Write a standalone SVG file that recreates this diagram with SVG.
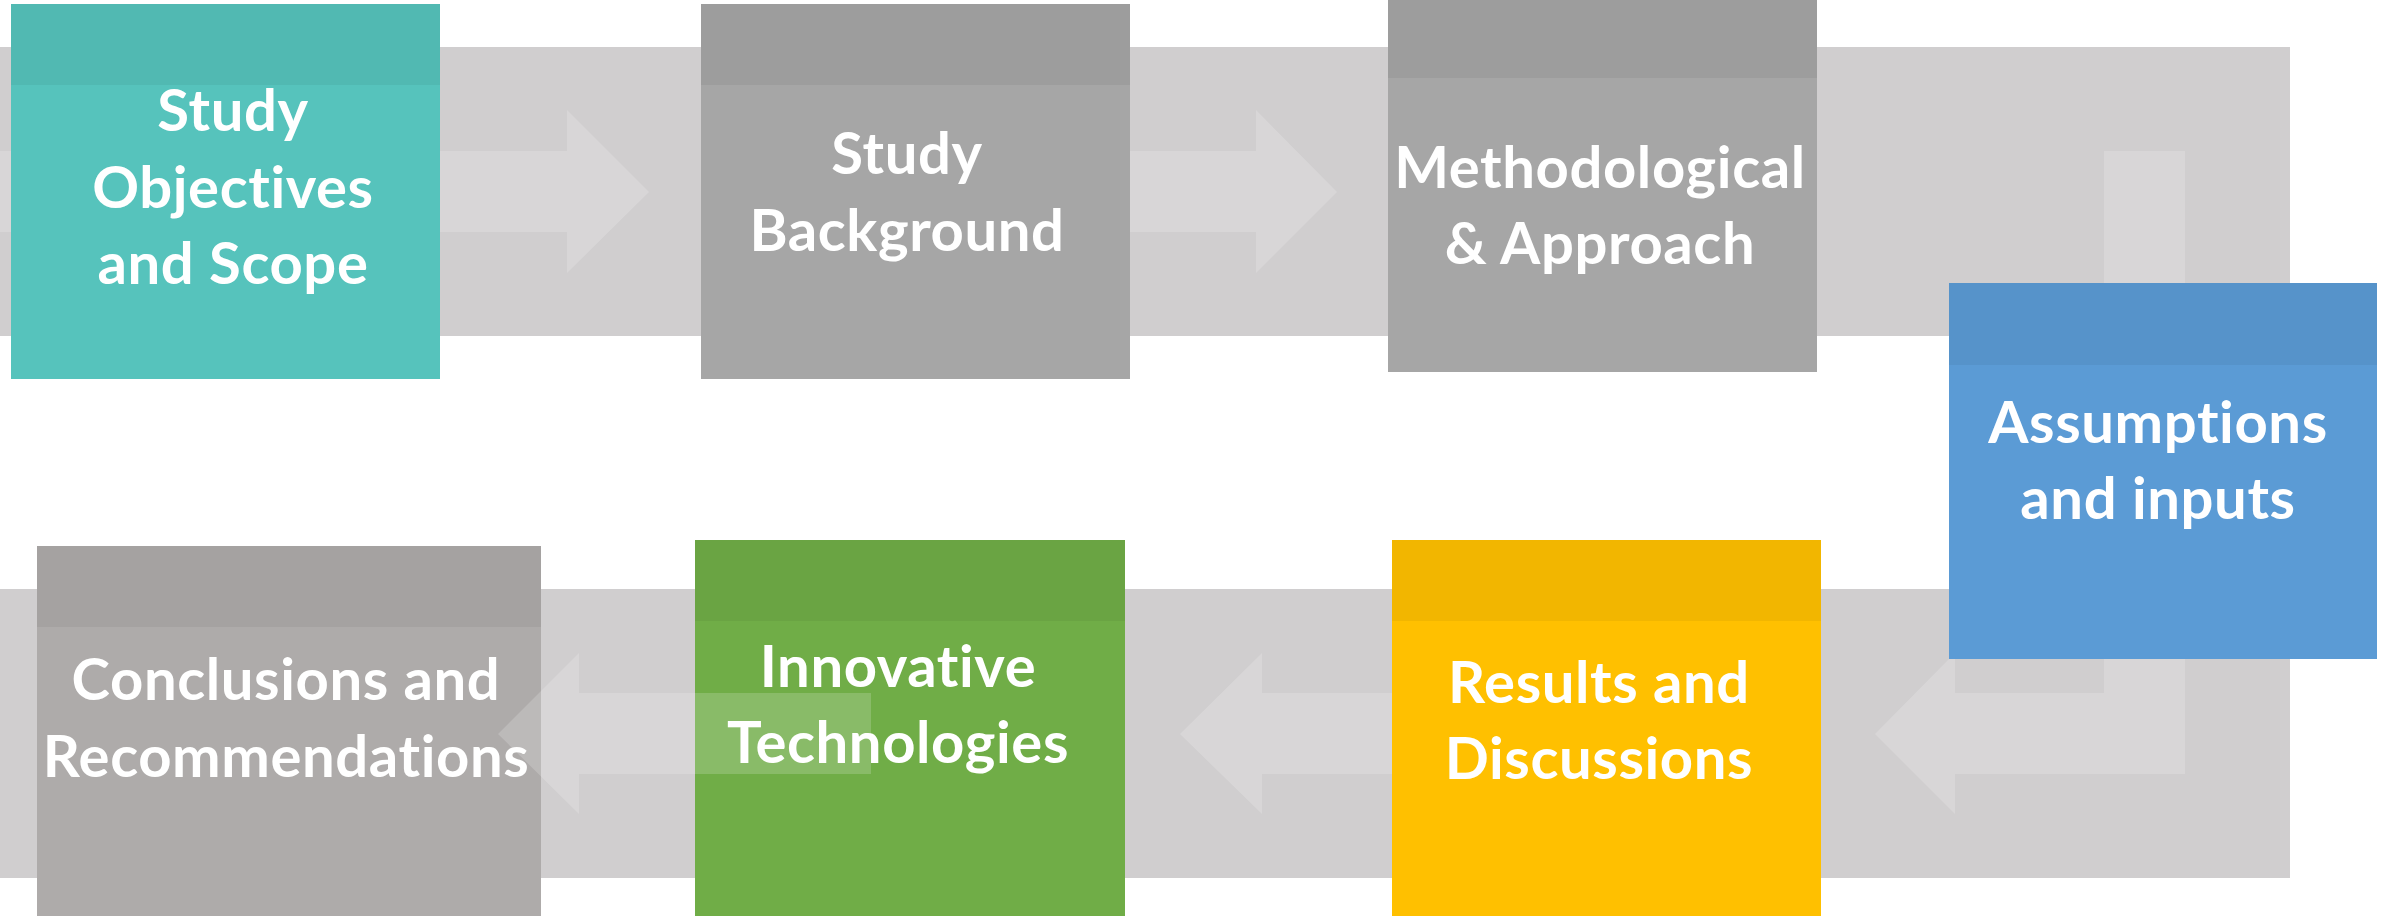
<svg xmlns="http://www.w3.org/2000/svg" width="2386" height="916" viewBox="0 0 2386 916">
  <style>
    .band { fill: #D0CECF; }
    .flow { fill: #FFFFFF; fill-opacity: 0.18; }
    .head { fill: #000000; fill-opacity: 0.05; }
    .label { font-family: Lato, "Liberation Sans", sans-serif; font-weight: 700; font-size: 58px; fill: #FFFFFF; text-anchor: middle; letter-spacing: 0.6px; }
  </style>

  <rect width="2386" height="916" fill="#FFFFFF"/>

  <!-- wide grey loop behind the process steps -->
  <g id="backdrop">
    <path class="band" d="M0,47 H2290 V878 H0 V589 H1949 V336 H0 Z"/>
  </g>

  <!-- process steps -->
  <g id="step-objectives">
    <rect x="11" y="4" width="429" height="375" fill="#56C3BC"/>
    <rect class="head" x="11" y="4" width="429" height="81"/>
    <text class="label"><tspan x="233" y="131">Study</tspan><tspan x="233" y="208">Objectives</tspan><tspan x="233" y="284">and Scope</tspan></text>
  </g>

  <g id="step-background">
    <rect x="701" y="4" width="429" height="375" fill="#A6A6A6"/>
    <rect class="head" x="701" y="4" width="429" height="81"/>
    <text class="label"><tspan x="907" y="174">Study</tspan><tspan x="907" y="251">Background</tspan></text>
  </g>

  <g id="step-methodology">
    <rect x="1388" y="0" width="429" height="372" fill="#A6A6A6"/>
    <rect class="head" x="1388" y="0" width="429" height="78"/>
    <text class="label"><tspan x="1600" y="188">Methodological</tspan><tspan x="1600" y="264">&amp; Approach</tspan></text>
  </g>

  <g id="step-assumptions">
    <rect x="1949" y="283" width="428" height="376" fill="#5B9BD5"/>
    <rect class="head" x="1949" y="283" width="428" height="82"/>
    <text class="label"><tspan x="2158" y="443">Assumptions</tspan><tspan x="2158" y="519">and inputs</tspan></text>
  </g>

  <g id="step-results">
    <rect x="1392" y="540" width="429" height="376" fill="#FFC000"/>
    <rect class="head" x="1392" y="540" width="429" height="81"/>
    <text class="label"><tspan x="1599" y="703">Results and</tspan><tspan x="1599" y="779">Discussions</tspan></text>
  </g>

  <g id="step-innovation">
    <rect x="695" y="540" width="430" height="376" fill="#70AD47"/>
    <rect class="head" x="695" y="540" width="430" height="81"/>
    <text class="label"><tspan x="898" y="687">Innovative</tspan><tspan x="898" y="763">Technologies</tspan></text>
  </g>

  <g id="step-conclusions">
    <rect x="37" y="546" width="504" height="370" fill="#AEABAA"/>
    <rect class="head" x="37" y="546" width="504" height="81"/>
    <text class="label"><tspan x="286" y="700">Conclusions and</tspan><tspan x="286" y="777">Recommendations</tspan></text>
  </g>

  <!-- light flow arrows linking the steps -->
  <g id="connectors">
    <rect class="flow" x="0" y="151" width="11" height="81"/>
    <path class="flow" d="M440,151 H567 V110 L649,192 L567,273 V232 H440 Z"/>
    <path class="flow" d="M1130,151 H1256 V110 L1337,192 L1256,273 V232 H1130 Z"/>
    <rect class="flow" x="2104" y="151" width="81" height="132"/>
    <path class="flow" d="M1875,734 L1949,659 H1955 V693 H2104 V659 H2185 V774 H1955 V814 Z"/>
    <path class="flow" d="M1180,734 L1262,653 V693 H1392 V774 H1262 V814 Z"/>
    <path class="flow" d="M498,734 L579,653 V693 H871 V774 H579 V814 Z"/>
  </g>
</svg>
